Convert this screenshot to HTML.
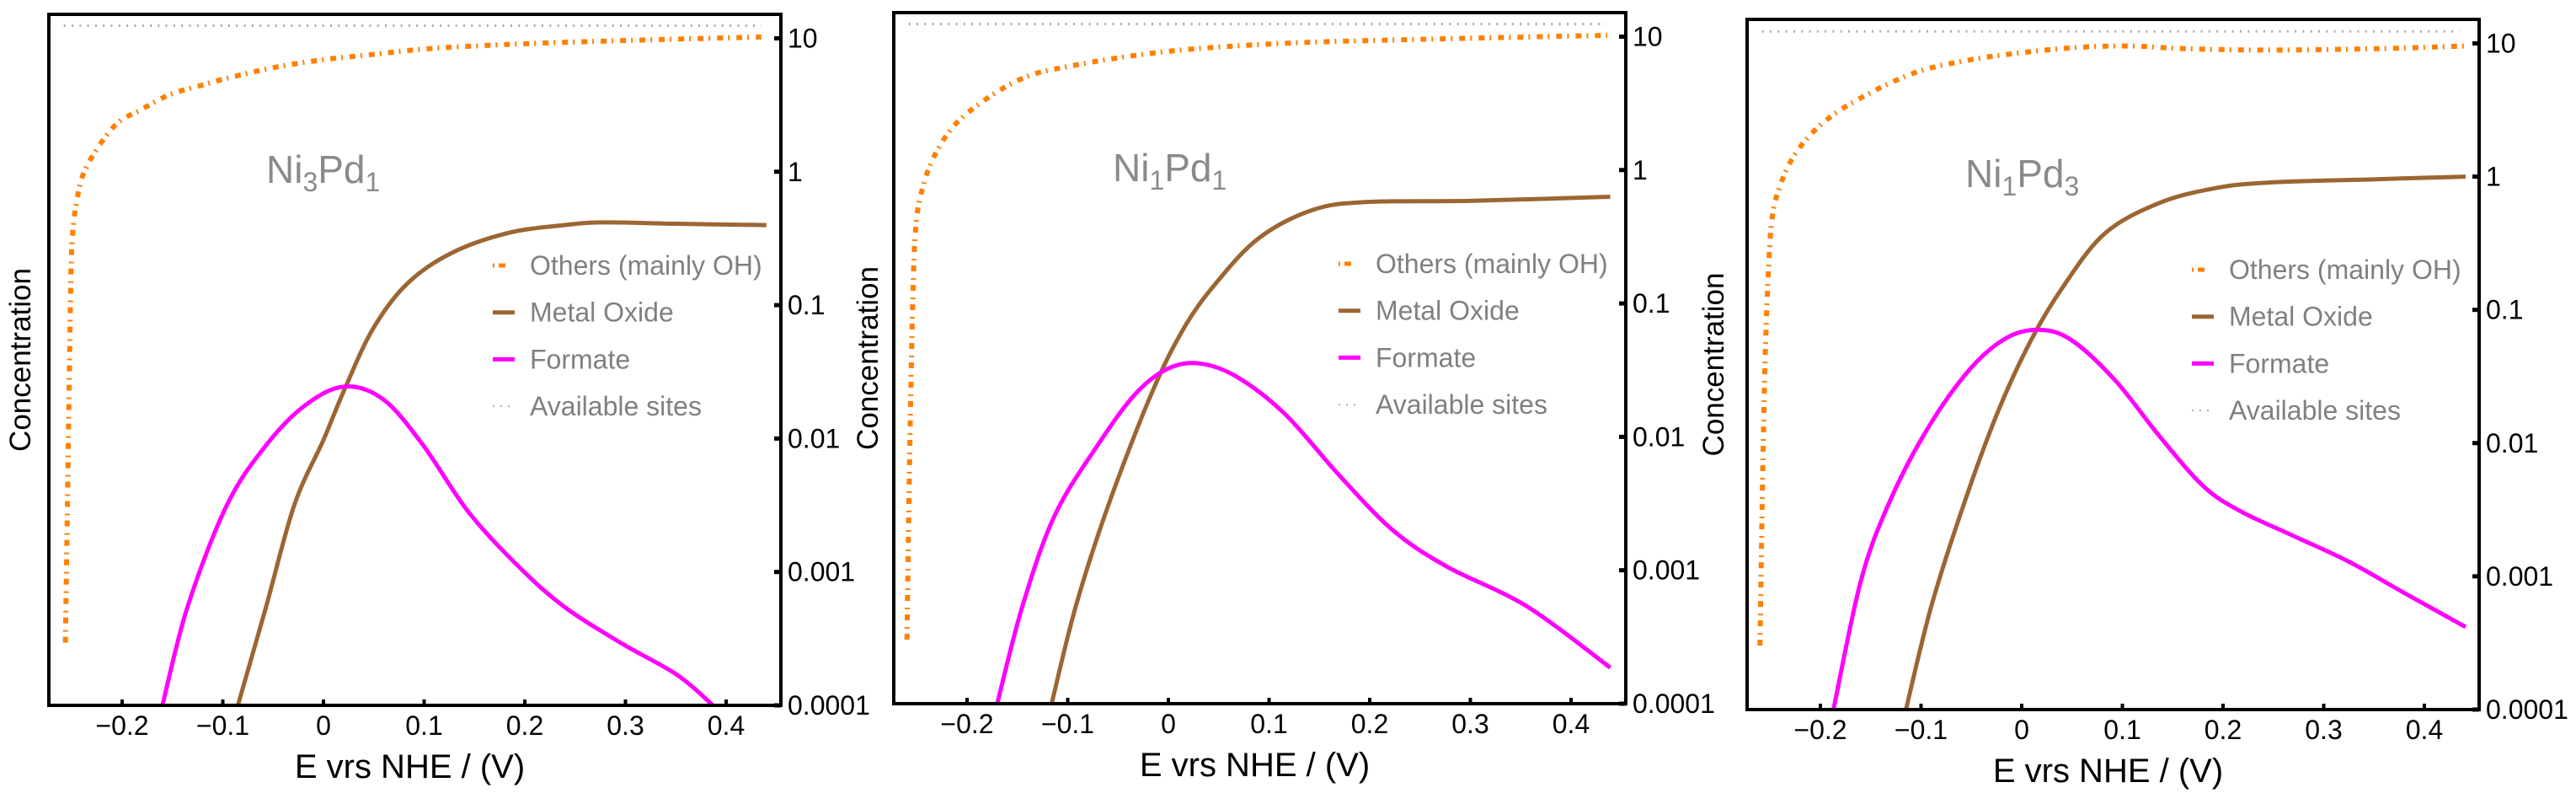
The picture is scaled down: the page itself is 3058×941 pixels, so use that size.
<!DOCTYPE html>
<html><head><meta charset="utf-8">
<style>
html,body{margin:0;padding:0;background:#fff;}
svg{display:block;font-family:"Liberation Sans",Arial,sans-serif;}
</style></head>
<body>
<svg id="chart" width="3058" height="941" viewBox="0 0 3058 941" xmlns="http://www.w3.org/2000/svg"></svg>
<script>
// ===== data (E in V, concentrations as log10 values) =====
const xTicks = [-0.2, -0.1, 0, 0.1, 0.2, 0.3, 0.4];
const xTickLabels = ["\u22120.2", "\u22120.1", "0", "0.1", "0.2", "0.3", "0.4"];
const yTicksLog = [-4, -3, -2, -1, 0, 1];
const yTickLabels = ["0.0001", "0.001", "0.01", "0.1", "1", "10"];
const legendLabels = ["Others (mainly OH)", "Metal Oxide", "Formate", "Available sites"];

// Panel 1: Ni3Pd1
const p1OthersE = [-0.2564,-0.2536,-0.2514,-0.2497,-0.2453,-0.2358,-0.208,-0.18,-0.152,-0.12,-0.096,-0.05,0,0.05,0.1,0.17,0.24,0.33,0.435];
const p1OthersLog = [-3.53,-2.13,-0.99,-0.53,-0.23,0.03,0.34,0.47,0.58,0.65,0.70,0.78,0.84,0.88,0.92,0.95,0.97,0.99,1.01];
const p1OxideE = [-0.085,-0.057,-0.029,0,0.021,0.049,0.083,0.127,0.183,0.239,0.278,0.351,0.44];
const p1OxideLog = [-4,-3.26,-2.50,-2.01,-1.63,-1.18,-0.84,-0.61,-0.46,-0.40,-0.38,-0.39,-0.40];
const p1FormateE = [-0.160,-0.135,-0.096,-0.057,-0.018,0.021,0.060,0.099,0.144,0.194,0.239,0.295,0.351,0.387];
const p1FormateLog = [-4,-3.26,-2.50,-2.05,-1.75,-1.61,-1.71,-2.05,-2.55,-2.96,-3.26,-3.53,-3.77,-4];
const p1SitesE = [-0.258, 0.435];
const p1SitesLog = [1.095, 1.095];

// Panel 2: Ni1Pd1
const p2OthersE = [-0.2597,-0.257,-0.254,-0.251,-0.244,-0.230,-0.204,-0.150,-0.097,0,0.116,0.25,0.436];
const p2OthersLog = [-3.52,-2.14,-1.0,-0.43,-0.13,0.14,0.40,0.67,0.78,0.89,0.95,0.98,1.01];
const p2OxideE = [-0.116,-0.092,-0.060,-0.017,0.015,0.047,0.090,0.143,0.196,0.303,0.439];
const p2OxideLog = [-4,-3.27,-2.52,-1.68,-1.19,-0.85,-0.51,-0.30,-0.24,-0.23,-0.20];
const p2FormateE = [-0.170,-0.145,-0.113,-0.070,-0.033,-0.001,0.031,0.068,0.116,0.170,0.223,0.276,0.356,0.439];
const p2FormateLog = [-4,-3.27,-2.59,-2.06,-1.68,-1.49,-1.45,-1.55,-1.83,-2.29,-2.70,-2.97,-3.27,-3.73];
const p2SitesE = [-0.258, 0.435];
const p2SitesLog = [1.095, 1.095];

// Panel 3: Ni1Pd3
const p3OthersE = [-0.260,-0.257,-0.254,-0.249,-0.241,-0.225,-0.198,-0.160,-0.106,-0.052,0,0.056,0.109,0.163,0.244,0.352,0.441];
const p3OthersLog = [-3.52,-2.10,-1.15,-0.39,-0.09,0.17,0.40,0.59,0.78,0.875,0.93,0.97,0.98,0.96,0.95,0.96,0.98];
const p3OxideE = [-0.115,-0.090,-0.058,-0.025,0.007,0.039,0.082,0.136,0.190,0.244,0.352,0.441];
const p3OxideLog = [-4,-3.23,-2.47,-1.79,-1.26,-0.85,-0.43,-0.20,-0.09,-0.045,-0.02,0.0];
const p3FormateE = [-0.187,-0.160,-0.133,-0.095,-0.052,-0.015,0.018,0.050,0.093,0.136,0.180,0.217,0.271,0.325,0.379,0.441];
const p3FormateLog = [-4,-3.04,-2.47,-1.91,-1.45,-1.21,-1.15,-1.23,-1.53,-1.94,-2.32,-2.51,-2.70,-2.89,-3.12,-3.38];
const p3SitesE = [-0.258, 0.435];
const p3SitesLog = [1.09, 1.09];

// ===== drawing =====
const NS = "http://www.w3.org/2000/svg";
const svg = document.getElementById("chart");
function mk(tag, attrs, parent){
  const e = document.createElementNS(NS, tag);
  for (const k in attrs) e.setAttribute(k, attrs[k]);
  (parent||svg).appendChild(e);
  return e;
}
function smoothPath(pts){
  if (pts.length < 3) {
    return pts.map((q,i)=>(i?"L":"M")+q[0].toFixed(1)+" "+q[1].toFixed(1)).join(" ");
  }
  let d = "M" + pts[0][0].toFixed(1) + " " + pts[0][1].toFixed(1);
  for (let i = 0; i < pts.length - 1; i++) {
    const p0 = pts[Math.max(0,i-1)], p1 = pts[i], p2 = pts[i+1], p3 = pts[Math.min(pts.length-1,i+2)];
    const c1x = p1[0] + (p2[0]-p0[0])/6, c1y = p1[1] + (p2[1]-p0[1])/6;
    const c2x = p2[0] - (p3[0]-p1[0])/6, c2y = p2[1] - (p3[1]-p1[1])/6;
    d += " C" + c1x.toFixed(1)+" "+c1y.toFixed(1)+" "+c2x.toFixed(1)+" "+c2y.toFixed(1)+" "+p2[0].toFixed(1)+" "+p2[1].toFixed(1);
  }
  return d;
}
const panels = [
  {id:"ni3pd1", L:58, R:927, T:17, B:837, sub1:"3", sub2:"1", titleX:316, titleY:217, legX:629, legY:315,
   series:[[p1OthersE,p1OthersLog],[p1OxideE,p1OxideLog],[p1FormateE,p1FormateLog],[p1SitesE,p1SitesLog]], ylabX:24},
  {id:"ni1pd1", L:1061, R:1930, T:15, B:835, sub1:"1", sub2:"1", titleX:1321, titleY:215, legX:1633, legY:313,
   series:[[p2OthersE,p2OthersLog],[p2OxideE,p2OxideLog],[p2FormateE,p2FormateLog],[p2SitesE,p2SitesLog]], ylabX:1030},
  {id:"ni1pd3", L:2074, R:2943, T:23, B:842, sub1:"1", sub2:"3", titleX:2333, titleY:222, legX:2646, legY:320,
   series:[[p3OthersE,p3OthersLog],[p3OxideE,p3OxideLog],[p3FormateE,p3FormateLog],[p3SitesE,p3SitesLog]], ylabX:2034}
];
const styles = [
  {name:"others", stroke:"#ff8000", w:6, dash:"7 6 2 8"},
  {name:"metal-oxide", stroke:"#9b6633", w:5, dash:null},
  {name:"formate", stroke:"#ff00ff", w:5, dash:null},
  {name:"available-sites", stroke:"#aaaaaa", w:3, dash:"2 7.3"}
];
const xMin = -0.2728, xMax = 0.4544, yMin = -4, yMax = 1.18;

panels.forEach(function(p){
  const g = mk("g", {});
  
  
  const sx = v => p.L + (v - xMin) / (xMax - xMin) * (p.R - p.L);
  const sy = v => p.B - (v - yMin) / (yMax - yMin) * (p.B - p.T);
  const clip = mk("clipPath", {id:"clip-"+p.id}, g);
  mk("rect", {x:p.L, y:p.T, width:p.R-p.L, height:p.B-p.T}, clip);

  p.series.forEach(function(s, i){
    const st = styles[i];
    const pts = [];
    for (let k = 0; k < s[0].length; k++) pts.push([sx(s[0][k]), sy(s[1][k])]);
    const path = mk("path", {d:smoothPath(pts), fill:"none", stroke:st.stroke, "stroke-width":st.w, "stroke-linejoin":"round", "clip-path":"url(#clip-"+p.id+")"}, g);
    if (st.dash) path.setAttribute("stroke-dasharray", st.dash);
    
    
  });

  const frame = mk("rect", {x:p.L, y:p.T, width:p.R-p.L, height:p.B-p.T, fill:"none", stroke:"#000", "stroke-width":4}, g);
  
  

  xTicks.forEach(function(v, i){
    const x = sx(v);
    mk("line", {x1:x, x2:x, y1:p.B, y2:p.B-7, stroke:"#000", "stroke-width":4}, g);
    const t = mk("text", {x:x, y:p.B+35, "font-size":32, "text-anchor":"middle", fill:"#000"}, g);
    t.textContent = xTickLabels[i];
    
    
  });
  yTicksLog.forEach(function(v, i){
    const y = sy(v);
    mk("line", {x1:p.R, x2:p.R-8, y1:y, y2:y, stroke:"#000", "stroke-width":5}, g);
    const t = mk("text", {x:p.R+8, y:y+11, "font-size":32, fill:"#000"}, g);
    t.textContent = yTickLabels[i];
    
    
  });

  const xt = mk("text", {x:(p.L+p.R)/2 - 6, y:p.B+86, "font-size":40, "text-anchor":"middle", fill:"#000"}, g);
  xt.textContent = "E vrs NHE / (V)";
  
  
  const yt = mk("text", {x:0, y:0, "font-size":35, "text-anchor":"middle", fill:"#000",
    transform:"translate(" + (p.ylabX+12) + "," + ((p.T+p.B)/2) + ") rotate(-90)"}, g);
  yt.textContent = "Concentration";
  
  

  const tt = mk("text", {x:p.titleX, y:p.titleY, "font-size":46, fill:"#8a8a8a"}, g);
  
  
  const parts = [["Ni",0],[p.sub1,1],["Pd",0],[p.sub2,1]];
  parts.forEach(function(pt){
    const ts = mk("tspan", {}, tt);
    if (pt[1]) { ts.setAttribute("font-size", 32); ts.setAttribute("dy", 10); }
    else { ts.setAttribute("dy", tt.childNodes.length > 1 ? -10 : 0); }
    ts.textContent = pt[0];
  });

  legendLabels.forEach(function(lab, i){
    const y = p.legY + i*55.7;
    const st = styles[i];
    const ent = mk("g", {}, g);
    
    
    const ln = mk("line", {x1:p.legX-44, x2:p.legX-18, y1:y, y2:y, stroke:st.stroke, "stroke-width": i===3?2:5}, ent);
    if (i===0) ln.setAttribute("stroke-dasharray", "2 5 8 20");
    if (i===3) ln.setAttribute("stroke-dasharray", "2 7");
    const t = mk("text", {x:p.legX, y:y+11, "font-size":32, fill:"#808080"}, ent);
    t.textContent = lab;
  });
});
</script>
</body></html>
